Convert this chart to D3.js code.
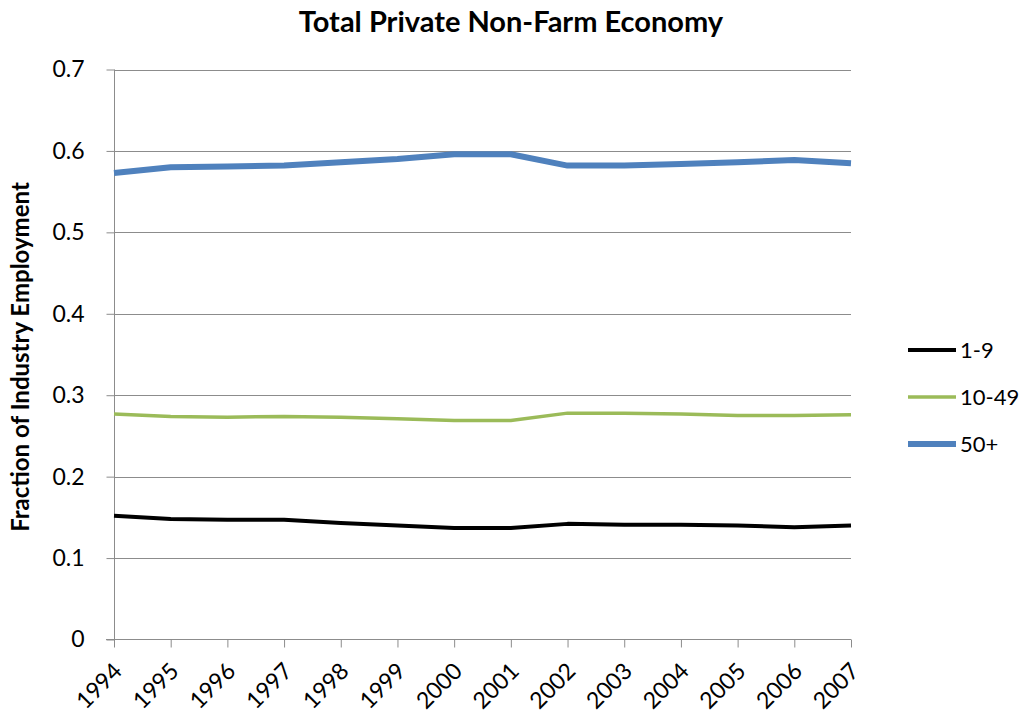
<!DOCTYPE html>
<meta charset="utf-8">
<style>
body { margin: 0; background: #fff; }
text { font-family: Lato, "Open Sans", sans-serif; fill: #000; }
</style>
<svg id="chart" width="1029" height="728"></svg>
<script src="https://cdn.jsdelivr.net/npm/d3@7"></script>
<script>
var years = [1994, 1995, 1996, 1997, 1998, 1999, 2000, 2001, 2002, 2003, 2004, 2005, 2006, 2007];
var small = [0.152, 0.148, 0.147, 0.147, 0.143, 0.140, 0.137, 0.137, 0.142, 0.141, 0.141, 0.140, 0.138, 0.140];
var medium = [0.277, 0.274, 0.273, 0.274, 0.273, 0.271, 0.269, 0.269, 0.278, 0.278, 0.277, 0.275, 0.275, 0.276];
var large = [0.573, 0.580, 0.581, 0.582, 0.586, 0.590, 0.596, 0.596, 0.582, 0.582, 0.584, 0.586, 0.589, 0.585];
var seriesNames = ["1-9", "10-49", "50+"];
var seriesColors = ["#000000", "#9bbb59", "#4f81bd"];
var seriesWidths = [4, 3.5, 6];
var yTicks = [0, 0.1, 0.2, 0.3, 0.4, 0.5, 0.6, 0.7];

var svg = d3.select("#chart");
var plotLeft = 114, plotRight = 851, plotTop = 69.5, plotBottom = 639.5;
var font = "Lato, 'Open Sans', sans-serif";

var x = d3.scalePoint().domain(years).range([plotLeft, plotRight]);
var y = d3.scaleLinear().domain([0, 0.7]).range([plotBottom, plotTop]);

// gridlines
svg.append("g")
  .selectAll("line")
  .data(yTicks.slice(1))
  .enter().append("line")
    .attr("x1", plotLeft).attr("x2", plotRight)
    .attr("y1", function(d){ return Math.round(y(d)) + 0.5; })
    .attr("y2", function(d){ return Math.round(y(d)) + 0.5; })
    .attr("stroke", "#8c8c8c").attr("stroke-width", 1);

// y axis
var yAxis = svg.append("g")
  .attr("transform", "translate(" + (plotLeft + 0.5) + ",0)")
  .call(d3.axisLeft(y).tickValues(yTicks).tickSize(8).tickPadding(22)
        .tickFormat(function(d){ return d === 0 ? "0" : d3.format(".1f")(d); }));
yAxis.select("path").attr("stroke", "#8c8c8c").attr("d", "M0," + plotTop + "V" + plotBottom);
yAxis.selectAll("line").attr("stroke", "#8c8c8c");
yAxis.selectAll("text").style("font-size", "23px").style("font-family", font).attr("fill", "#000");

// x axis
var xAxis = svg.append("g")
  .attr("transform", "translate(0," + plotBottom + ")")
  .call(d3.axisBottom(x).tickSize(8).tickSizeOuter(0));
xAxis.select("path").attr("stroke", "#8c8c8c").attr("d", "M" + (plotLeft - 8) + ",0H" + plotRight);
xAxis.selectAll("line").attr("stroke", "#8c8c8c");
xAxis.selectAll("text")
  .style("font-size", "23px").style("font-family", font).attr("fill", "#000")
  .attr("text-anchor", "end")
  .attr("dy", 0).attr("y", 0)
  .attr("transform", "translate(9,33) rotate(-45)");

// lines
var allSeries = [small, medium, large];
var line = d3.line()
  .x(function(d, i){ return x(years[i]); })
  .y(function(d){ return y(d); });

svg.append("g")
  .selectAll("path")
  .data(allSeries)
  .enter().append("path")
    .attr("d", line)
    .attr("fill", "none")
    .attr("stroke", function(d, i){ return seriesColors[i]; })
    .attr("stroke-width", function(d, i){ return seriesWidths[i]; })
    .attr("stroke-linejoin", "round");

// title
svg.append("text")
  .attr("x", 511).attr("y", 32)
  .attr("text-anchor", "middle")
  .style("font-size", "29px").style("font-weight", "bold")
  .text("Total Private Non-Farm Economy");

// y axis title
svg.append("text")
  .attr("transform", "translate(29,357) rotate(-90)")
  .attr("text-anchor", "middle")
  .style("font-size", "24px").style("font-weight", "bold")
  .text("Fraction of Industry Employment");

// legend
var legend = svg.append("g")
  .selectAll("g")
  .data(seriesNames)
  .enter().append("g")
    .attr("transform", function(d, i){ return "translate(908," + (350 + i * 47) + ")"; });
legend.append("line")
  .attr("x1", 0).attr("x2", 48)
  .attr("stroke", function(d, i){ return seriesColors[i]; })
  .attr("stroke-width", function(d, i){ return seriesWidths[i]; });
legend.append("text")
  .attr("x", 52).attr("y", 8)
  .style("font-size", "22px")
  .text(function(d){ return d; });
</script>
